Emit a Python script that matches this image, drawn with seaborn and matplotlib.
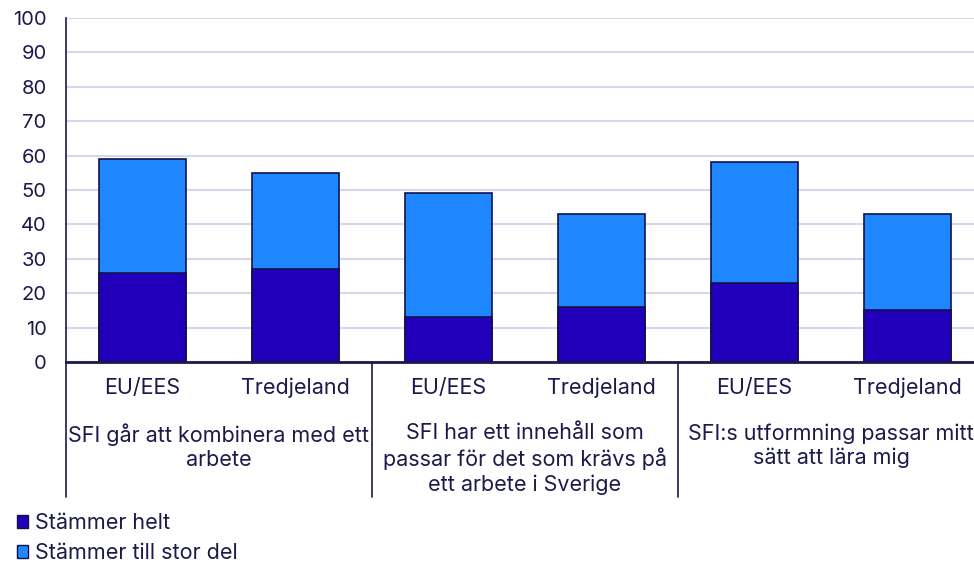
import matplotlib
matplotlib.use("Agg")
import matplotlib.pyplot as plt
import seaborn as sns
import pandas as pd
from matplotlib.patches import Patch

# data
origins = ["EU/EES", "Tredjeland", "EU/EES", "Tredjeland", "EU/EES", "Tredjeland"]
groups = [
    "SFI går att kombinera med ett\narbete",
    "SFI har ett innehåll som\npassar för det som krävs på\nett arbete i Sverige",
    "SFI:s utformning passar mitt\nsätt att lära mig",
]
helt = [26, 27, 13, 16, 23, 15]
stor_del = [33, 28, 36, 27, 35, 28]
series_names = ["Stämmer helt", "Stämmer till stor del"]

dark = "#2200BB"
light = "#1E87FF"
text_col = "#1B1A4A"
grid_col = "#D6D6EC"
fs = 15.5

sns.set_style("white")
plt.rcParams["font.family"] = ["Inter", "DejaVu Sans"]
plt.rcParams["text.color"] = text_col
plt.rcParams["xtick.color"] = text_col
plt.rcParams["ytick.color"] = text_col

df = pd.DataFrame({
    "pos": list(range(len(origins))),
    "helt": helt,
    "total": [a + b for a, b in zip(helt, stor_del)],
})

fig = plt.figure(figsize=(9.74, 5.62), dpi=100)
ax = fig.add_axes([66 / 974, 1 - 362 / 562, 908 / 974, 344 / 562])

sns.barplot(data=df, x="pos", y="total", color=light, width=0.57,
            edgecolor="#14124A", linewidth=1.2, saturation=1, ax=ax, zorder=3)
sns.barplot(data=df, x="pos", y="helt", color=dark, width=0.57,
            edgecolor="#14124A", linewidth=1.2, saturation=1, ax=ax, zorder=4)

ax.set_xlim(-0.5, 5.435)
ax.set_ylim(0, 100)
ax.set_yticks(range(0, 101, 10))
ax.yaxis.grid(True, color=grid_col, linewidth=1.5, zorder=0)
ax.set_axisbelow(True)
ax.tick_params(axis="y", labelsize=14.5, length=5, width=1.2, color=text_col, pad=9)
ax.set_xticks([])
ax.set_xlabel("")
ax.set_ylabel("")

for s in ["top", "right"]:
    ax.spines[s].set_visible(False)
ax.spines["left"].set_color(text_col)
ax.spines["left"].set_linewidth(1.2)
ax.spines["bottom"].set_color(text_col)
ax.spines["bottom"].set_linewidth(2)
ax.spines["bottom"].set_zorder(5)

tr = ax.get_xaxis_transform()
for i, lab in enumerate(origins):
    ax.text(i, -26 / 344, lab, transform=tr, ha="center", va="center", fontsize=fs)
for g, lab in enumerate(groups):
    ax.text(2 * g + 0.5, -61 / 344, lab, transform=tr, ha="center", va="top",
            fontsize=fs, linespacing=1.25)
for xs in [-0.5, 1.5, 3.5]:
    ax.plot([xs, xs], [0, -135 / 344], transform=tr, color=text_col,
            linewidth=1.2, clip_on=False)

handles = [Patch(facecolor=dark, edgecolor="#14124A"),
           Patch(facecolor=light, edgecolor="#14124A")]
fig.legend(handles, series_names, loc="upper left", bbox_to_anchor=(0.017, 1 - 513 / 562),
           frameon=False, fontsize=fs, handlelength=0.55, handleheight=0.55,
           handletextpad=0.3, labelspacing=0.45, borderaxespad=0, borderpad=0)

fig.savefig("out.png", dpi=100)
